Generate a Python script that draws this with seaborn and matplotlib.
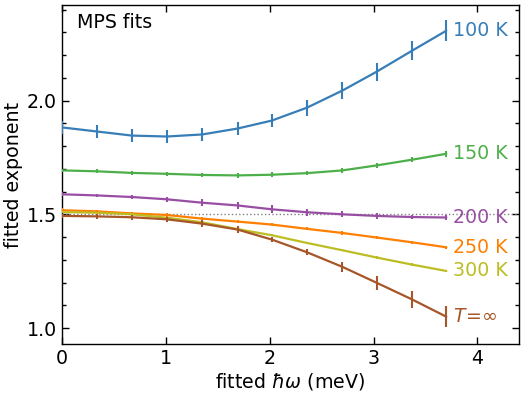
import numpy as np
import pandas as pd
import matplotlib
matplotlib.use("Agg")
import matplotlib.pyplot as plt
import seaborn as sns
from matplotlib.ticker import MultipleLocator

sns.set_style("ticks")
plt.rcParams['font.family'] = ['DejaVu Sans']
plt.rcParams['mathtext.fontset'] = 'dejavusans'
for k in ["text.color", "axes.labelcolor", "xtick.color", "ytick.color", "axes.edgecolor"]:
    plt.rcParams[k] = "black"

hw = [0.0, 0.337, 0.674, 1.01, 1.35, 1.69, 2.02, 2.36, 2.70, 3.03, 3.37, 3.70]

labels = ["100 K", "150 K", "200 K", "250 K", "300 K", r"$T\!=\!\infty$"]
colors = ["#377eb8", "#4daf4a", "#984ea3", "#ff7f00", "#bcbd22", "#a65628"]

exp_100 = [1.882, 1.864, 1.846, 1.842, 1.851, 1.877, 1.912, 1.969, 2.044, 2.127, 2.219, 2.307]
err_100 = [0.030, 0.028, 0.030, 0.030, 0.028, 0.028, 0.030, 0.035, 0.037, 0.040, 0.042, 0.045]
exp_150 = [1.693, 1.689, 1.682, 1.678, 1.673, 1.671, 1.674, 1.681, 1.693, 1.715, 1.740, 1.766]
err_150 = [0.008, 0.008, 0.008, 0.009, 0.010, 0.010, 0.010, 0.010, 0.010, 0.011, 0.012, 0.012]
exp_200 = [1.588, 1.583, 1.576, 1.566, 1.551, 1.539, 1.522, 1.509, 1.500, 1.493, 1.488, 1.486]
err_200 = [0.008, 0.008, 0.010, 0.012, 0.015, 0.016, 0.017, 0.015, 0.013, 0.012, 0.010, 0.010]
exp_250 = [1.518, 1.513, 1.504, 1.497, 1.481, 1.468, 1.455, 1.436, 1.418, 1.398, 1.377, 1.355]
err_250 = [0.008, 0.008, 0.008, 0.008, 0.008, 0.008, 0.008, 0.007, 0.007, 0.007, 0.007, 0.007]
exp_300 = [1.510, 1.507, 1.500, 1.485, 1.465, 1.435, 1.408, 1.374, 1.342, 1.310, 1.279, 1.251]
err_300 = [0.005, 0.005, 0.005, 0.005, 0.005, 0.005, 0.005, 0.005, 0.005, 0.005, 0.005, 0.005]
exp_inf = [1.493, 1.491, 1.487, 1.478, 1.459, 1.433, 1.389, 1.333, 1.269, 1.199, 1.126, 1.050]
err_inf = [0.008, 0.010, 0.012, 0.012, 0.015, 0.015, 0.012, 0.014, 0.022, 0.030, 0.036, 0.046]

series = [exp_100, exp_150, exp_200, exp_250, exp_300, exp_inf]
errors = [err_100, err_150, err_200, err_250, err_300, err_inf]

rows = []
for lab, ys, es in zip(labels, series, errors):
    for x, y, e in zip(hw, ys, es):
        rows.append({"hw": x, "exponent": y, "err": e, "T": lab})
df = pd.DataFrame(rows)

fs = 13.7
fig = plt.figure(figsize=(5.23, 3.95), dpi=100)
ax = fig.add_axes([62/523, 1-344/395, (519-62)/523, (344-5)/395])

ax.axhline(1.5, color="gray", ls=":", lw=1.0, zorder=1)

sns.lineplot(data=df, x="hw", y="exponent", hue="T", palette=dict(zip(labels, colors)),
             hue_order=labels, lw=1.6, legend=False, ax=ax, zorder=3)
for lab, c in zip(labels, colors):
    d = df[df["T"] == lab]
    ax.errorbar(d["hw"], d["exponent"], yerr=d["err"], fmt="none", ecolor=c,
                elinewidth=1.5, capsize=0, zorder=3)
    ax.text(d["hw"].iloc[-1] + 0.065, d["exponent"].iloc[-1], lab, color=c,
            fontsize=fs, va="center", ha="left")

ax.text(0.14, 2.345, "MPS fits", fontsize=fs, va="center", ha="left")

ax.set_xlim(0, 4.4)
ax.set_ylim(0.93, 2.42)
ax.xaxis.set_major_locator(MultipleLocator(1))
ax.yaxis.set_major_locator(MultipleLocator(0.5))
ax.yaxis.set_minor_locator(MultipleLocator(0.1))
ax.yaxis.set_major_formatter(matplotlib.ticker.FormatStrFormatter("%.1f"))
ax.tick_params(which="both", direction="in", top=True, right=True, labelsize=fs, colors="black")
ax.tick_params(which="major", length=5, width=1)
ax.tick_params(which="minor", length=3, width=1)
for s in ax.spines.values():
    s.set_linewidth(1.0)
    s.set_color("black")
ax.set_xlabel(r"fitted $\hbar\omega$ (meV)", fontsize=fs, labelpad=2)
ax.set_ylabel("fitted exponent", fontsize=fs, labelpad=3)

fig.savefig("out.png", dpi=100)
